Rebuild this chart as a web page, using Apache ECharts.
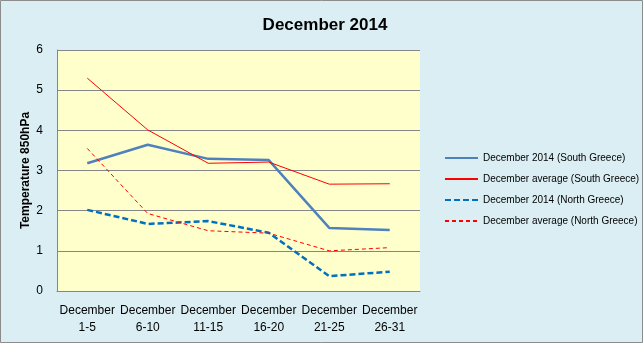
<!DOCTYPE html>
<html><head><meta charset="utf-8">
<script src="https://cdn.jsdelivr.net/npm/echarts@6/dist/echarts.min.js"></script>
<style>html,body{margin:0;padding:0;background:#DAEEF3;}#c{width:643px;height:343px;}</style>
</head><body><div id="c"></div>
<script>
const categories = ['December\n1-5','December\n6-10','December\n11-15','December\n16-20','December\n21-25','December\n26-31'];
const south2014 = [3.18, 3.64, 3.29, 3.26, 1.57, 1.52];
const southAvg = [5.30, 4.01, 3.18, 3.21, 2.66, 2.67];
const north2014 = [2.02, 1.67, 1.74, 1.45, 0.37, 0.48];
const northAvg = [3.55, 1.93, 1.50, 1.44, 1.00, 1.08];
const seriesNames = ['December 2014 (South Greece)','December average (South Greece)','December 2014 (North Greece)','December average (North Greece)'];
const yTicks = [0,1,2,3,4,5,6];

const font = 'Liberation Sans, Arial, sans-serif';
const chart = echarts.init(document.getElementById('c'), null, {renderer:'canvas'});
chart.setOption({
  backgroundColor: '#DAEEF3',
  animation: false,
  graphic: [{type:'rect', shape:{x:0.5,y:0.5,width:642,height:342}, style:{fill:'none', stroke:'#8c8c8c', lineWidth:1}, silent:true}],
  title: {text:'December 2014', left: 320, top: 12, textAlign:'center',
    textStyle:{fontFamily:font, fontSize:17, fontWeight:'bold', color:'#000'}},
  legend: {orient:'vertical', left: 439, top: 148, itemWidth: 33, itemHeight: 10, itemGap: 11,
    itemStyle:{opacity:0},
    textStyle:{fontFamily:font, fontSize:10, color:'#000'},
    data: seriesNames},
  grid: {left: 57, right: 223, top: 50, bottom: 52, show:true, backgroundColor:'#FFFFCC', borderWidth:0},
  xAxis: {type:'category', data: categories, boundaryGap:true,
    axisLine:{show:true, lineStyle:{color:'#868686'}}, axisTick:{show:false},
    axisLabel:{fontFamily:font, fontSize:12, color:'#000', margin:11, lineHeight:17, interval:0}},
  yAxis: {type:'value', min:0, max:6, interval:1,
    name:'Temperature 850hPa', nameLocation:'middle', nameGap:25, nameRotate:90, nameMoveOverlap:false,
    nameTextStyle:{fontFamily:font, fontSize:12, fontWeight:'bold', color:'#000'},
    axisLine:{show:true, lineStyle:{color:'#868686'}}, axisTick:{show:false},
    splitLine:{lineStyle:{color:'#868686', width:1}},
    axisLabel:{fontFamily:font, fontSize:12, color:'#000', margin:14,
      formatter: v => yTicks.includes(v) ? String(v) : ''}},
  series: [
    {name:seriesNames[0], type:'line', data:south2014, symbol:'none', lineStyle:{color:'#4F81BD', width:2.5}, itemStyle:{color:'#4F81BD'}},
    {name:seriesNames[1], type:'line', data:southAvg, symbol:'none', lineStyle:{color:'#FF0000', width:1}, itemStyle:{color:'#FF0000'}},
    {name:seriesNames[2], type:'line', data:north2014, symbol:'none', lineStyle:{color:'#0070C0', width:2.5, type:[6,3]}, itemStyle:{color:'#0070C0'}},
    {name:seriesNames[3], type:'line', data:northAvg, symbol:'none', lineStyle:{color:'#FF0000', width:1, type:[4,3]}, itemStyle:{color:'#FF0000'}}
  ]
});
</script></body></html>
